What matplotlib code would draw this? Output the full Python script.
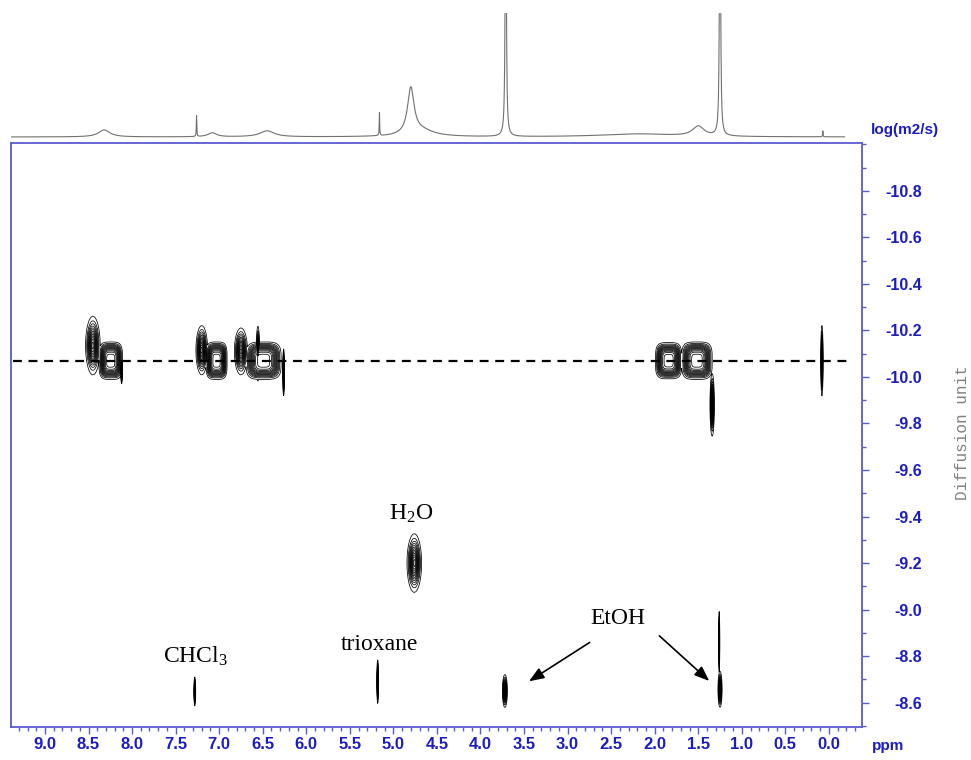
import numpy as np
import matplotlib
matplotlib.use('Agg')
from matplotlib import pyplot as plt
from matplotlib.ticker import MultipleLocator

plt.rcParams['mathtext.fontset'] = 'custom'
plt.rcParams['mathtext.rm'] = 'Liberation Serif'
plt.rcParams['mathtext.it'] = 'Liberation Serif:italic'

# ---- data ----
# 1D projection on top: ppm, height (px above baseline), half-width (ppm)
top_ppm = [8.32, 7.26, 7.08, 6.45, 5.16, 4.80, 4.68, 3.71, 2.20, 1.50, 1.25, 0.07]
top_height = [7, 21, 4, 6, 23, 46, 6, 400, 3, 10, 400, 6]
top_width = [0.08, 0.003, 0.06, 0.1, 0.003, 0.045, 0.18, 0.006, 0.5, 0.08, 0.006, 0.003]

# DOSY cross peaks: ppm, width ppm, logD, width logD, shape exponent
pk_ppm = [8.245, 7.03, 6.49, 1.84, 1.515, 8.45, 7.20, 6.75, 6.555, 1.34, 6.26, 8.12,
          0.08, 4.76, 7.28, 5.18, 3.72, 1.25, 1.26]
pk_wppm = [0.104, 0.093, 0.155, 0.116, 0.135, 0.05, 0.04, 0.045, 0.012, 0.015, 0.006, 0.006,
           0.008, 0.05, 0.006, 0.006, 0.017, 0.014, 0.004]
pk_D = [-10.07, -10.07, -10.07, -10.07, -10.07, -10.135, -10.115, -10.11, -10.10, -9.88, -10.02, -10.03,
        -10.07, -9.2, -8.648, -8.69, -8.65, -8.657, -8.86]
pk_wD = [0.062, 0.062, 0.062, 0.06, 0.062, 0.075, 0.063, 0.06, 0.07, 0.08, 0.06, 0.035,
         0.09, 0.075, 0.037, 0.056, 0.042, 0.046, 0.08]
pk_shape = [4, 4, 4, 4, 4, 2, 2, 2, 2, 2, 2, 2, 2, 2, 2, 2, 2, 2, 2]

dashed_D = -10.07
dashed_span = (9.37, -0.22)

labels = ['CHCl$_3$', 'trioxane', 'H$_2$O', 'EtOH']
label_pos = [(7.27, -8.80), (5.16, -8.85), (4.80, -9.41), (2.42, -8.96)]
arrow_tail = [(2.72, -8.865), (1.97, -8.895)]
arrow_head = [(3.47, -8.685), (1.35, -8.685)]

blue_line = '#5a5ad2'
blue_text = '#1c1cc0'

fig = plt.figure(figsize=(9.71, 7.60), dpi=100)
xlim = (9.39, -0.38)

# ---- top 1D spectrum ----
axt = fig.add_axes([11/971, 1 - 140/760, 851/971, 127/760])
x = np.linspace(xlim[0], xlim[1], 8000)
y = np.zeros_like(x)
for c, h, w in zip(top_ppm, top_height, top_width):
    y += h / (1 + ((x - c) / w) ** 2)
m = x > -0.18
axt.plot(x[m], y[m], color='#707070', lw=0.8)
axt.set_xlim(*xlim)
axt.set_ylim(-3, 124)
axt.axis('off')

# ---- main DOSY map ----
ax = fig.add_axes([11/971, 1 - 727/760, 851/971, 584/760])
gx = np.linspace(xlim[0], xlim[1], 3000)
gy = np.linspace(-11.05, -8.45, 1000)
X, Y = np.meshgrid(gx, gy)
Z = np.zeros_like(X)
for c, wc, d, wd, p in zip(pk_ppm, pk_wppm, pk_D, pk_wD, pk_shape):
    Z = np.maximum(Z, np.exp(-np.abs((X - c) / wc) ** p - np.abs((Y - d) / wd) ** p))
ax.contour(X, Y, Z, levels=np.linspace(0.06, 0.96, 13), colors='black', linewidths=0.55)

ax.plot(dashed_span, [dashed_D, dashed_D], color='black', lw=1.6, ls=(0, (4, 3)))

for t, (px, py) in zip(labels, label_pos):
    ax.text(px, py, t, family='Liberation Serif', fontsize=17, ha='center', va='center')
for (tx, ty), (hx, hy) in zip(arrow_tail, arrow_head):
    ax.annotate('', xy=(hx, hy), xytext=(tx, ty),
                arrowprops=dict(arrowstyle='-|>,head_length=0.9,head_width=0.35', color='black', lw=1.2))

ax.set_xlim(*xlim)
ax.set_ylim(-8.495, -11.006)
for s in ax.spines.values():
    s.set_color(blue_line)
    s.set_linewidth(1.3)

ax.yaxis.tick_right()
ax.yaxis.set_minor_locator(MultipleLocator(0.1))
ax.set_yticks(np.round(np.arange(-10.8, -8.55, 0.2), 1))
ax.set_yticklabels(['%.1f' % v for v in np.arange(-10.8, -8.55, 0.2)])
ax.xaxis.set_minor_locator(MultipleLocator(0.1))
ax.set_xticks(np.arange(0, 9.01, 0.5))
ax.set_xticklabels(['%.1f' % v for v in np.arange(0, 9.01, 0.5)])

ax.tick_params(axis='y', which='major', direction='out', length=5, width=1, color=blue_line,
               labelcolor=blue_text, labelsize=11.5, pad=38)
ax.tick_params(axis='y', which='minor', direction='out', length=3, width=1, color=blue_line)
ax.tick_params(axis='x', which='major', direction='out', length=5, width=1, color=blue_line,
               labelcolor=blue_text, labelsize=12, pad=2)
ax.tick_params(axis='x', which='minor', direction='out', length=3, width=1, color=blue_line)
for lab in ax.get_yticklabels() + ax.get_xticklabels():
    lab.set_fontfamily('Liberation Sans')
    lab.set_fontweight('bold')
for lab in ax.get_yticklabels():
    lab.set_horizontalalignment('right')

fig.text(888/971, 1 - 746/760, 'ppm', color=blue_text, fontsize=11, fontweight='bold',
         family='Liberation Sans', ha='center', va='center')
fig.text(905/971, 1 - 130/760, 'log(m2/s)', color=blue_text, fontsize=11, fontweight='bold',
         family='Liberation Sans', ha='center', va='center')
fig.text(962/971, 1 - 433/760, 'Diffusion unit', color='#808080', fontsize=11.5,
         family='Liberation Mono', rotation=90, ha='center', va='center')

fig.savefig('out.png', dpi=100)
